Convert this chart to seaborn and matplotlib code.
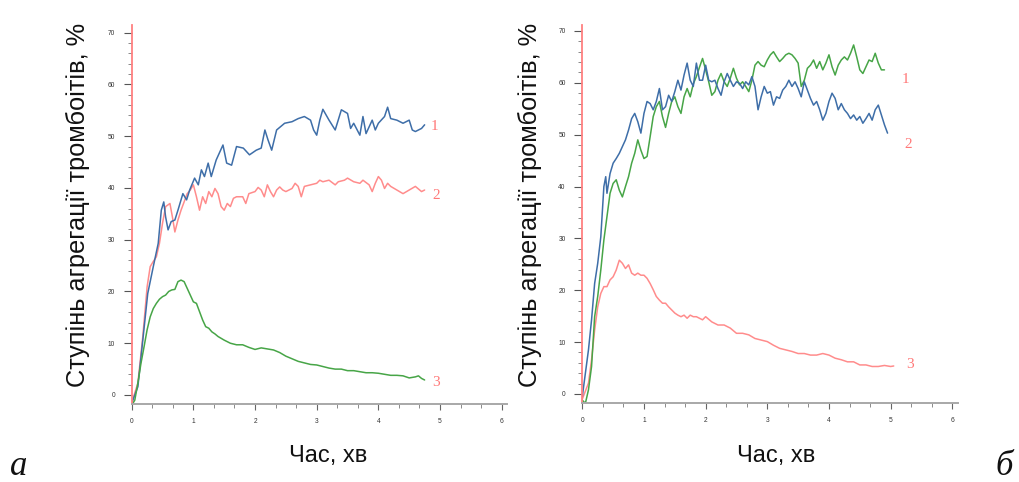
import numpy as np
import pandas as pd
import matplotlib
matplotlib.use("Agg")
import matplotlib.pyplot as plt
from matplotlib.ticker import MultipleLocator
import seaborn as sns

# ---------------- data ----------------
# Panel "а"
a1_t = [0, 0.1, 0.18, 0.26, 0.35, 0.43, 0.48, 0.52, 0.55, 0.59, 0.64, 0.70, 0.75, 0.83, 0.89,
        0.94, 1.02, 1.08, 1.13, 1.18, 1.24, 1.29, 1.37, 1.48, 1.54, 1.62, 1.70, 1.81, 1.91, 2.02,
        2.10, 2.16, 2.21, 2.27, 2.35, 2.48, 2.6, 2.7, 2.8, 2.9, 2.95, 3.0, 3.05, 3.1, 3.2, 3.3,
        3.4, 3.5, 3.55, 3.6, 3.7, 3.75, 3.8, 3.9, 3.95, 4.0, 4.1, 4.15, 4.2, 4.3, 4.4, 4.5, 4.55,
        4.6, 4.7, 4.75]
a1_v = [-1.6, 1.6, 10.6, 19.6, 24.8, 29.3, 35.7, 37.3, 34.4, 31.9, 33.5, 33.8, 35.7, 38.9, 37.7,
        39.6, 41.9, 40.6, 43.5, 42.2, 44.8, 42.2, 45.4, 48.3, 44.8, 44.4, 48.0, 47.7, 46.4, 47.3,
        47.7, 51.2, 49.3, 47.3, 51.2, 52.5, 52.8, 53.4, 53.8, 53.1, 51.2, 50.2, 53.1, 55.2, 53.1, 51.2,
        55.1, 54.4, 51.5, 52.5, 50.2, 53.8, 50.5, 53.1, 51.2, 52.5, 53.8, 55.6, 53.4, 53.1, 52.5, 53.1, 51.2,
        50.9, 51.5, 52.2]

a2_t = [0, 0.1, 0.18, 0.25, 0.3, 0.35, 0.4, 0.45, 0.5, 0.55, 0.62, 0.66, 0.7, 0.75, 0.8, 0.85,
        0.9, 0.95, 1.0, 1.05, 1.1, 1.15, 1.2, 1.25, 1.3, 1.35, 1.4, 1.45, 1.5, 1.55, 1.6, 1.65,
        1.7, 1.8, 1.85, 1.9, 2.0, 2.05, 2.1, 2.15, 2.2, 2.25, 2.3, 2.35, 2.4, 2.45, 2.5, 2.6,
        2.65, 2.7, 2.75, 2.8, 2.9, 3.0, 3.05, 3.1, 3.2, 3.3, 3.35, 3.45, 3.5, 3.6, 3.7, 3.75,
        3.85, 3.9, 3.95, 4.0, 4.05, 4.1, 4.15, 4.2, 4.3, 4.4, 4.5, 4.6, 4.7, 4.75]
a2_v = [-1.5, 2.3, 11.3, 20.9, 24.8, 25.8, 26.7, 29.3, 33.2, 36.4, 37.0, 34.4, 31.5, 33.8, 35.7, 37.3,
        38.9, 39.6, 40.6, 38.3, 35.7, 38.3, 37.0, 39.3, 38.3, 39.9, 38.9, 36.4, 35.7, 37.0, 36.4, 38.0,
        38.3, 38.3, 37.0, 38.9, 39.3, 40.1, 39.6, 38.3, 40.6, 39.3, 38.3, 39.6, 40.2, 39.6, 39.3, 39.9,
        40.9, 40.3, 38.3, 40.3, 40.6, 40.9, 41.5, 41.2, 41.5, 40.6, 41.2, 41.5, 41.9, 41.2, 40.9, 41.5,
        40.6, 39.3, 40.9, 42.2, 41.5, 39.9, 40.9, 40.3, 39.6, 38.9, 39.6, 40.3, 39.3, 39.6]

a3_t = [0, 0.05, 0.1, 0.15, 0.2, 0.25, 0.3, 0.35, 0.4, 0.45, 0.5, 0.55, 0.6, 0.65, 0.7, 0.75,
        0.8, 0.85, 0.9, 0.95, 1.0, 1.05, 1.1, 1.15, 1.2, 1.25, 1.3, 1.35, 1.4, 1.5, 1.6, 1.7,
        1.8, 1.9, 2.0, 2.1, 2.2, 2.3, 2.4, 2.5, 2.6, 2.7, 2.8, 2.9, 3.0, 3.1, 3.2, 3.3, 3.4,
        3.5, 3.6, 3.7, 3.8, 3.9, 4.0, 4.1, 4.2, 4.3, 4.4, 4.5, 4.6, 4.65, 4.7, 4.75]
a3_v = [-2.0, -1.0, 2.3, 6.1, 9.3, 12.6, 15.1, 16.7, 17.7, 18.5, 19.0, 19.3, 20.0, 20.3, 20.4, 21.9,
        22.2, 21.9, 20.6, 19.3, 18.0, 17.7, 16.1, 14.5, 13.2, 12.9, 12.2, 11.8, 11.3, 10.6, 10.0, 9.7,
        9.7, 9.2, 8.8, 9.1, 8.9, 8.7, 8.2, 7.5, 7.0, 6.5, 6.2, 5.9, 5.8, 5.5, 5.2, 5.0, 5.0,
        4.7, 4.7, 4.5, 4.3, 4.3, 4.2, 4.0, 3.8, 3.8, 3.7, 3.3, 3.5, 3.7, 3.2, 2.9]

# Panel "б"
b1_t = [0, 0.05, 0.1, 0.15, 0.2, 0.25, 0.3, 0.35, 0.4, 0.45, 0.5, 0.55, 0.6, 0.65, 0.7, 0.75,
        0.8, 0.85, 0.9, 0.95, 1.0, 1.05, 1.1, 1.15, 1.2, 1.25, 1.3, 1.35, 1.4, 1.45, 1.5, 1.55,
        1.6, 1.65, 1.7, 1.75, 1.8, 1.85, 1.9, 1.95, 2.0, 2.05, 2.1, 2.15, 2.2, 2.25, 2.3, 2.35,
        2.4, 2.45, 2.5, 2.55, 2.6, 2.65, 2.7, 2.75, 2.8, 2.85, 2.9, 2.95, 3.0, 3.05, 3.1, 3.15,
        3.2, 3.25, 3.3, 3.35, 3.4, 3.45, 3.5, 3.55, 3.6, 3.65, 3.7, 3.75, 3.8, 3.85, 3.9, 3.95,
        4.0, 4.05, 4.1, 4.15, 4.2, 4.25, 4.3, 4.35, 4.4, 4.45, 4.5, 4.55, 4.6, 4.65, 4.7, 4.75,
        4.8, 4.85, 4.9]
b1_v = [-1.2, -1.8, 0.8, 5.3, 14.9, 18.8, 23.9, 29.7, 34.2, 38.7, 40.6, 41.3, 39.3, 38.0, 40.0, 41.9,
        44.5, 46.4, 49.0, 47.0, 45.4, 45.8, 49.6, 53.5, 55.4, 56.4, 53.5, 51.4, 54.1, 56.4, 57.3, 55.4,
        54.1, 57.3, 58.9, 57.3, 59.8, 61.2, 63.0, 64.7, 62.5, 60.2, 57.6, 58.3, 60.5, 61.8, 60.2, 59.3,
        60.9, 62.8, 60.9, 59.6, 60.2, 59.3, 58.3, 60.5, 63.4, 64.1, 63.4, 63.1, 64.4, 65.4, 66.0, 65.0,
        64.1, 64.7, 65.4, 65.7, 65.4, 64.7, 63.8, 59.3, 60.5, 62.8, 63.4, 64.4, 62.8, 64.1, 62.5, 63.8,
        65.4, 63.1, 61.5, 63.4, 64.4, 65.0, 64.4, 65.7, 67.3, 65.0, 62.5, 61.8, 63.1, 64.4, 64.1, 65.7,
        63.8, 62.5, 62.5]

b2_t = [0, 0.05, 0.1, 0.15, 0.2, 0.25, 0.3, 0.35, 0.38, 0.4, 0.45, 0.5, 0.55, 0.6, 0.65, 0.7,
        0.75, 0.8, 0.85, 0.9, 0.95, 1.0, 1.05, 1.1, 1.15, 1.2, 1.25, 1.3, 1.35, 1.4, 1.45, 1.5,
        1.55, 1.6, 1.65, 1.7, 1.75, 1.8, 1.85, 1.9, 1.95, 2.0, 2.05, 2.1, 2.15, 2.2, 2.25, 2.3,
        2.35, 2.4, 2.45, 2.5, 2.55, 2.6, 2.65, 2.7, 2.75, 2.8, 2.85, 2.9, 2.95, 3.0, 3.05, 3.1,
        3.15, 3.2, 3.25, 3.3, 3.35, 3.4, 3.45, 3.5, 3.55, 3.6, 3.65, 3.7, 3.75, 3.8, 3.85, 3.9,
        3.95, 4.0, 4.05, 4.1, 4.15, 4.2, 4.25, 4.3, 4.35, 4.4, 4.45, 4.5, 4.55, 4.6, 4.65, 4.7,
        4.75, 4.8, 4.85, 4.9, 4.95]
b2_v = [-0.5, 4.0, 8.5, 14.3, 21.3, 25.2, 30.3, 40.0, 41.9, 38.7, 42.5, 44.5, 45.4, 46.4, 47.7, 49.0,
        50.9, 53.1, 54.1, 52.5, 50.3, 54.1, 56.4, 56.0, 54.8, 56.4, 58.9, 54.8, 55.4, 57.6, 56.4, 58.3,
        60.5, 58.6, 61.5, 63.8, 60.5, 59.3, 63.8, 60.5, 60.5, 63.4, 60.5, 60.2, 60.5, 58.9, 57.6, 60.2,
        61.8, 60.5, 59.3, 60.2, 59.9, 58.9, 60.2, 59.6, 61.2, 59.3, 54.8, 57.3, 59.3, 58.0, 58.3, 55.7,
        57.3, 57.0, 58.6, 59.3, 60.5, 59.3, 60.2, 58.9, 57.3, 60.2, 58.6, 57.0, 55.7, 56.4, 54.8, 52.8,
        54.1, 56.4, 58.0, 57.0, 54.8, 56.0, 54.8, 54.1, 53.1, 53.8, 52.8, 53.5, 52.2, 53.1, 54.1, 52.8,
        54.8, 55.7, 53.8, 51.9, 50.3]

b3_t = [0, 0.1, 0.15, 0.2, 0.25, 0.3, 0.35, 0.4, 0.45, 0.5, 0.55, 0.6, 0.65, 0.7, 0.75, 0.8,
        0.85, 0.9, 0.95, 1.0, 1.05, 1.1, 1.15, 1.2, 1.25, 1.3, 1.35, 1.4, 1.45, 1.5, 1.55, 1.6,
        1.65, 1.7, 1.75, 1.8, 1.85, 1.9, 1.95, 2.0, 2.1, 2.2, 2.3, 2.4, 2.5, 2.6, 2.7, 2.8,
        2.9, 3.0, 3.1, 3.2, 3.3, 3.4, 3.5, 3.6, 3.7, 3.8, 3.9, 4.0, 4.1, 4.2, 4.3, 4.4,
        4.5, 4.6, 4.7, 4.8, 4.9, 5.0, 5.05]
b3_v = [-1.0, 2.1, 6.6, 12.3, 16.8, 19.4, 20.7, 20.7, 22.0, 22.6, 23.9, 25.8, 25.2, 24.2, 24.9, 23.3,
        22.9, 23.3, 22.9, 22.9, 22.3, 21.3, 20.1, 18.8, 18.1, 17.5, 17.5, 16.8, 16.2, 15.6, 15.2, 14.9,
        15.2, 14.6, 15.2, 14.9, 14.9, 14.6, 14.3, 14.9, 13.9, 13.3, 13.3, 12.7, 11.7, 11.7, 11.4, 10.7,
        10.4, 10.1, 9.4, 8.8, 8.5, 8.2, 7.8, 7.8, 7.5, 7.5, 7.8, 7.5, 6.9, 6.6, 6.2, 6.2,
        5.6, 5.6, 5.3, 5.3, 5.5, 5.3, 5.4]

x_ticks = [0, 1, 2, 3, 4, 5, 6]
y_ticks = [0, 10, 20, 30, 40, 50, 60, 70]
curve_labels = ["1", "2", "3"]
y_label = "Ступінь агрегації тромбоітів, %"
x_label = "Час, хв"
panel_labels = ["а", "б"]

# ---------------- style ----------------
BLUE = "#3e6ea8"
GREEN = "#47a547"
RED = "#ff8c8c"

sns.set_style("white")
plt.rcParams['font.family'] = ['Liberation Sans', 'DejaVu Sans']

W, H = 1019, 482
fig = plt.figure(figsize=(W / 100, H / 100), dpi=100)


def make_axes(left_px, axis_px, top_px, ymin, ppu_y):
    ppu_x = 370 / 6
    right_px = 507 - 131.7 + left_px
    ax = fig.add_axes([left_px / W, (H - axis_px) / H, (right_px - left_px) / W, (axis_px - top_px) / H])
    ax.set_xlim(0, (right_px - left_px) / ppu_x)
    ax.set_ylim(ymin, ymin + (axis_px - top_px) / ppu_y)
    return ax


ax_a = make_axes(131.7, 404, 25, -1.74, 5.176)
ax_b = make_axes(582.3, 403, 25, -1.74, 5.186)


def style_axes(ax):
    for s in ["top", "right"]:
        ax.spines[s].set_visible(False)
    ax.spines["left"].set_color("#ff8080")
    ax.spines["left"].set_linewidth(1.3)
    ax.spines["bottom"].set_color("#a8a8a8")
    ax.spines["bottom"].set_linewidth(1.4)
    ax.set_xticks(x_ticks)
    ax.set_yticks(y_ticks)
    ax.xaxis.set_minor_locator(MultipleLocator(1 / 3))
    ax.yaxis.set_minor_locator(MultipleLocator(2))
    ax.tick_params(axis="y", which="major", left=True, length=6, width=0.8, color="#555555",
                   labelsize=4.8, labelcolor="#333333", pad=6)
    ax.tick_params(axis="y", which="minor", left=True, length=3, width=0.6, color="#777777")
    ax.tick_params(axis="x", which="major", bottom=True, length=4, width=0.8, color="#666666",
                   labelsize=4.8, labelcolor="#333333", pad=6)
    ax.tick_params(axis="x", which="minor", bottom=True, length=3, width=0.6, color="#777777")
    ax.set_xlabel("")
    ax.set_ylabel("")
    ax.patch.set_alpha(0)


def draw(ax, t, v, color):
    df = pd.DataFrame({"t": t, "v": v})
    sns.lineplot(data=df, x="t", y="v", ax=ax, color=color, linewidth=1.1,
                 estimator=None, sort=False)


draw(ax_a, a2_t, a2_v, RED)
draw(ax_a, a1_t, a1_v, BLUE)
draw(ax_a, a3_t, a3_v, GREEN)

draw(ax_b, b3_t, b3_v, RED)
draw(ax_b, b1_t, b1_v, GREEN)
draw(ax_b, b2_t, b2_v, BLUE)

for ax in (ax_a, ax_b):
    style_axes(ax)

serif = ["Liberation Serif", "DejaVu Serif"]
lab_pos_a = [(4.85, 51.8), (4.88, 38.6), (4.88, 2.4)]
lab_pos_b = [(5.18, 60.7), (5.22, 48.2), (5.26, 5.6)]
for (x, y), s in zip(lab_pos_a, curve_labels):
    ax_a.text(x, y, s, color="#ff7878", fontsize=11, family=serif, ha="left", va="center")
for (x, y), s in zip(lab_pos_b, curve_labels):
    ax_b.text(x, y, s, color="#ff7878", fontsize=11, family=serif, ha="left", va="center")

fig.text(78 / W, 1 - 205 / H, y_label, rotation=90, ha="center", va="center", fontsize=18.3, color="#111111")
fig.text(530 / W, 1 - 205 / H, y_label, rotation=90, ha="center", va="center", fontsize=18.3, color="#111111")
fig.text(328 / W, 1 - 456 / H, x_label, ha="center", va="center", fontsize=17, color="#111111")
fig.text(776 / W, 1 - 456 / H, x_label, ha="center", va="center", fontsize=17, color="#111111")
fig.text(19 / W, 1 - 475 / H, panel_labels[0], ha="center", va="baseline", fontsize=25,
         family=serif, style="italic", color="#111111")
fig.text(1004 / W, 1 - 475 / H, panel_labels[1], ha="center", va="baseline", fontsize=25,
         family=serif, style="italic", color="#111111")

fig.savefig("out.png", dpi=100, facecolor="white")
